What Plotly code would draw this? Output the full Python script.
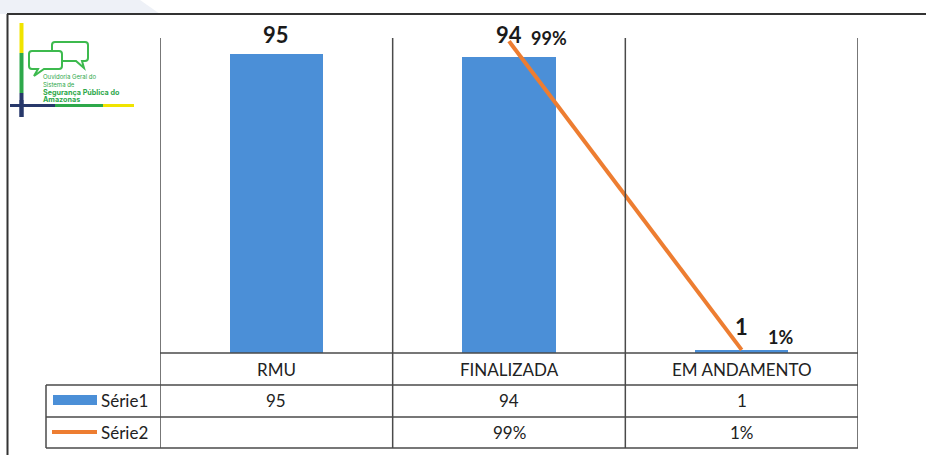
import plotly.graph_objects as go

# ---- data ----
categories = ["RMU", "FINALIZADA", "EM ANDAMENTO"]
serie1 = [95, 94, 1]
serie2 = [None, 0.99, 0.01]
series_names = ["Série1", "Série2"]
logo_small = ["Ouvidoria Geral do", "Sistema de"]
logo_big = ["Segurança Pública do", "Amazonas"]

# ---- geometry helpers (pixel -> paper) ----
W, H = 926, 455
L, R, T, B = 160, 68, 38, 102
PW, PH = W - L - R, H - T - B


def X(px):
    return (px - L) / PW


def Y(py):
    return (H - B - py) / PH


BAR_COLOR = "#4b8fd7"
LINE_COLOR = "#ed7d31"
GRID = "#4a4a4a"
FONT = "Lato"
TFS = 17

fig = go.Figure()
fig.add_trace(go.Bar(x=categories, y=serie1, name=series_names[0],
                     marker=dict(color=BAR_COLOR, line=dict(width=0)),
                     width=0.4, showlegend=False))
fig.add_trace(go.Scatter(x=categories, y=serie2, name=series_names[1], yaxis="y2",
                         mode="lines", line=dict(color=LINE_COLOR, width=4),
                         showlegend=False))

shapes = []
annotations = []

# background decoration (top-left)
shapes.append(dict(type="path", xref="paper", yref="paper", layer="below",
                   path=f"M {X(0)} {Y(0)} L {X(140)} {Y(0)} L {X(160)} {Y(14)} L {X(0)} {Y(14)} Z",
                   fillcolor="#eef1f7", line=dict(width=0)))
# frame
shapes.append(dict(type="line", xref="paper", yref="paper", x0=X(7), x1=X(926), y0=Y(14), y1=Y(14),
                   line=dict(color="#333333", width=2)))
shapes.append(dict(type="line", xref="paper", yref="paper", x0=X(7.5), x1=X(7.5), y0=Y(14), y1=Y(455),
                   line=dict(color="#333333", width=2)))

# category boundary lines (extend into table)
n = len(categories)
for i in range(n + 1):
    shapes.append(dict(type="line", xref="x", yref="paper", x0=i - 0.5, x1=i - 0.5,
                       y0=Y(448), y1=Y(38), line=dict(color=GRID, width=1.5)))
# table horizontal lines
shapes.append(dict(type="line", xref="x", yref="paper", x0=-0.5, x1=n - 0.5, y0=Y(353), y1=Y(353),
                   line=dict(color=GRID, width=1.5)))
for py in (385, 417, 448):
    shapes.append(dict(type="line", xref="paper", yref="paper", x0=X(46), x1=X(858), y0=Y(py), y1=Y(py),
                       line=dict(color=GRID, width=1.5)))
shapes.append(dict(type="line", xref="paper", yref="paper", x0=X(46), x1=X(46), y0=Y(385), y1=Y(448),
                   line=dict(color=GRID, width=1.5)))

# legend keys in table
shapes.append(dict(type="rect", xref="paper", yref="paper", x0=X(53), x1=X(97), y0=Y(405), y1=Y(395),
                   fillcolor=BAR_COLOR, line=dict(width=0)))
shapes.append(dict(type="line", xref="paper", yref="paper", x0=X(52), x1=X(97), y0=Y(432), y1=Y(432),
                   line=dict(color=LINE_COLOR, width=4)))
for name, py in zip(series_names, (401, 432.5)):
    annotations.append(dict(text=name, xref="paper", yref="paper", x=X(99), y=Y(py),
                            xanchor="left", yanchor="middle", showarrow=False,
                            font=dict(family=FONT, size=TFS, color="#222")))

# table cells
for i, cat in enumerate(categories):
    annotations.append(dict(text=cat, xref="x", yref="paper", x=i, y=Y(369),
                            xanchor="center", yanchor="middle", showarrow=False,
                            font=dict(family=FONT, size=TFS, color="#222")))
    annotations.append(dict(text=str(serie1[i]), xref="x", yref="paper", x=i, y=Y(401),
                            xanchor="center", yanchor="middle", showarrow=False,
                            font=dict(family=FONT, size=TFS, color="#222")))
    v2 = serie2[i]
    annotations.append(dict(text="" if v2 is None else f"{round(v2 * 100)}%", xref="x", yref="paper",
                            x=i, y=Y(432.5), xanchor="center", yanchor="middle", showarrow=False,
                            font=dict(family=FONT, size=TFS, color="#222")))

# data labels
bar_shift = [19, 22, 23]
for i, v in enumerate(serie1):
    annotations.append(dict(text=f"<b>{v}</b>", xref="x", yref="y", x=i, y=v,
                            xanchor="center", yanchor="middle", yshift=bar_shift[i], showarrow=False,
                            font=dict(family=FONT, size=22, color="#1a1a1a")))
line_off = [None, (40, -3), (39, -13)]
for i, v in enumerate(serie2):
    if v is None:
        continue
    dx, dy = line_off[i]
    annotations.append(dict(text=f"<b>{round(v * 100)}%</b>", xref="x", yref="y2", x=i, y=v,
                            xanchor="center", yanchor="middle", xshift=dx, yshift=-dy, showarrow=False,
                            font=dict(family=FONT, size=18, color="#1a1a1a")))

# logo
YEL, GRN, NAV = "#f0e400", "#2da84a", "#27386a"
for (y0, y1, c) in ((23, 53, YEL), (53, 93, GRN), (93, 117, NAV)):
    shapes.append(dict(type="line", xref="paper", yref="paper", x0=X(21.5), x1=X(21.5), y0=Y(y0), y1=Y(y1),
                       line=dict(color=c, width=4)))
for (x0, x1, c) in ((10, 55, NAV), (55, 103, GRN), (103, 134, YEL)):
    shapes.append(dict(type="line", xref="paper", yref="paper", x0=X(x0), x1=X(x1), y0=Y(105.5), y1=Y(105.5),
                       line=dict(color=c, width=3)))
shapes.append(dict(type="line", xref="paper", yref="paper", x0=X(21.5), x1=X(21.5), y0=Y(100), y1=Y(117),
                   line=dict(color=NAV, width=4)))


def bubble(x0, y0, x1, y1, tail):
    r = 3
    p = [f"M {X(x0 + r)} {Y(y0)}", f"L {X(x1 - r)} {Y(y0)}", f"Q {X(x1)} {Y(y0)} {X(x1)} {Y(y0 + r)}",
         f"L {X(x1)} {Y(y1 - r)}", f"Q {X(x1)} {Y(y1)} {X(x1 - r)} {Y(y1)}"]
    tx0, tip, tx1 = tail
    p += [f"L {X(tx1)} {Y(y1)}", f"L {X(tip[0])} {Y(tip[1])}", f"L {X(tx0)} {Y(y1)}"]
    p += [f"L {X(x0 + r)} {Y(y1)}", f"Q {X(x0)} {Y(y1)} {X(x0)} {Y(y1 - r)}",
          f"L {X(x0)} {Y(y0 + r)}", f"Q {X(x0)} {Y(y0)} {X(x0 + r)} {Y(y0)}", "Z"]
    return " ".join(p)


shapes.append(dict(type="path", xref="paper", yref="paper", path=bubble(52, 42, 88, 61, (76, (84, 68), 82)),
                   fillcolor="white", line=dict(color="#3dba4e", width=2)))
shapes.append(dict(type="path", xref="paper", yref="paper", path=bubble(29, 51, 62, 69, (38, (34, 76), 44)),
                   fillcolor="white", line=dict(color="#3dba4e", width=2)))

logo_text = "<br>".join(logo_small + [f"<span style='font-size:7.2px'><b>{t}</b></span>" for t in logo_big])
annotations.append(dict(text=logo_text, xref="paper", yref="paper",
                        x=X(42), y=Y(72), xanchor="left", yanchor="top", align="left",
                        showarrow=False, borderpad=0,
                        font=dict(family="Inter", size=6, color="#2da84a")))

fig.update_layout(
    width=W, height=H,
    margin=dict(l=L, r=R, t=T, b=B, pad=0),
    paper_bgcolor="white", plot_bgcolor="rgba(0,0,0,0)",
    xaxis=dict(range=[-0.5, n - 0.5], showticklabels=False, showgrid=False, zeroline=False,
               showline=False, ticks=""),
    yaxis=dict(range=[0, 100], visible=False),
    yaxis2=dict(range=[0, 1], overlaying="y", visible=False),
    shapes=shapes, annotations=annotations, showlegend=False, bargap=0,
)

fig.write_html("out.html")
